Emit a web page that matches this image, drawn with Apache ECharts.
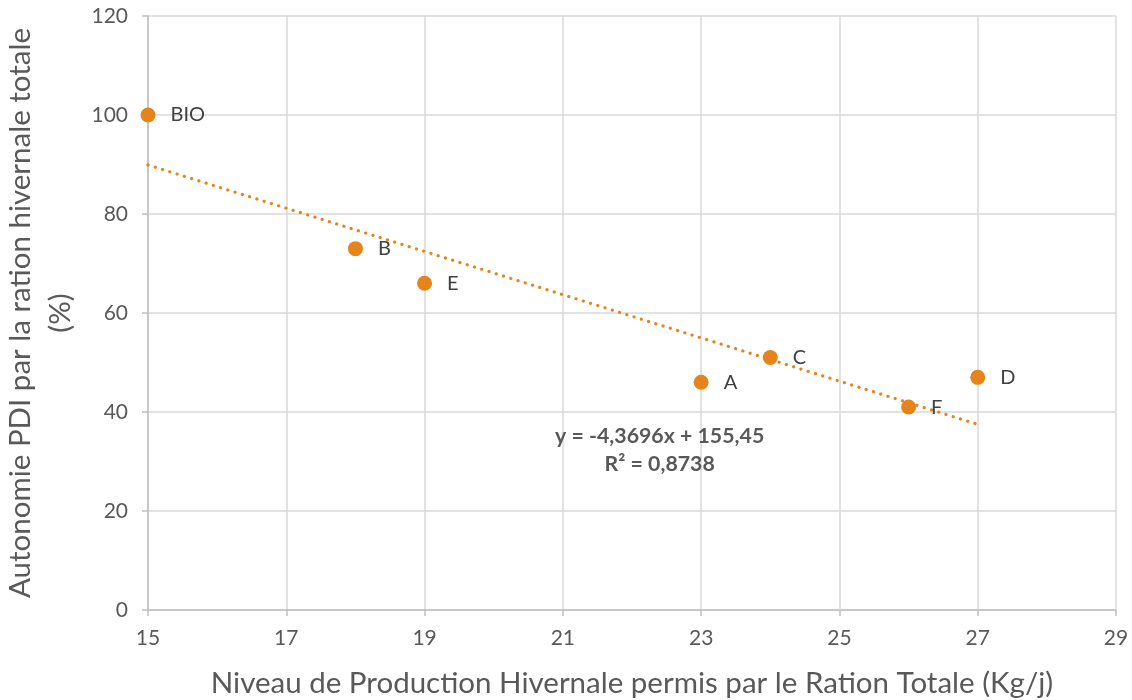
<!DOCTYPE html>
<html>
<head>
<meta charset="utf-8">
<script src="https://cdn.jsdelivr.net/npm/echarts@6/dist/echarts.min.js"></script>
<style>
  html, body { margin: 0; padding: 0; background: #fff; }
  #chart { width: 1132px; height: 700px; }
</style>
</head>
<body>
<div id="chart"></div>
<script>
// farms: name, production (kg/j), PDI autonomy (%)
const names = ["BIO", "B", "E", "A", "C", "F", "D"];
const production = [15, 18, 19, 23, 24, 26, 27];
const autonomy = [100, 73, 66, 46, 51, 41, 47];

// trendline ends
const trendX = [15, 27];
const trendY = [89.9, 37.5];
const trendText = "y = -4,3696x + 155,45\nR² = 0,8738";

const xTicks = { min: 15, max: 29, interval: 2 };
const yTicks = { min: 0, max: 120, interval: 20 };

const orange = "#E5841A";
const font = "Lato, 'Open Sans', sans-serif";

const chart = echarts.init(document.getElementById("chart"));

chart.setOption({
  animation: false,
  textStyle: { fontFamily: font },
  grid: { left: 148, right: 16, top: 16, bottom: 90, outerBoundsMode: "none", containLabel: false },
  xAxis: {
    type: "value",
    min: xTicks.min,
    max: xTicks.max,
    interval: xTicks.interval,
    name: "Niveau de Production Hivernale permis par le Ration Totale (Kg/j)",
    nameLocation: "middle",
    nameGap: 58,
    nameTextStyle: { fontSize: 29.5, color: "#595959", fontFamily: font },
    axisLine: { lineStyle: { color: "#bfbfbf", width: 1.5 } },
    axisTick: { show: true, length: 6, lineStyle: { color: "#bfbfbf", width: 1.5 } },
    axisLabel: { fontSize: 21, color: "#595959", margin: 18, fontFamily: font },
    splitLine: { lineStyle: { color: "#d9d9d9", width: 1.5 } }
  },
  yAxis: {
    type: "value",
    min: yTicks.min,
    max: yTicks.max,
    interval: yTicks.interval,
    name: "Autonomie PDI par la ration hivernale totale\n(%)",
    nameLocation: "middle",
    nameGap: 61,
    nameTextStyle: { fontSize: 29.5, color: "#595959", fontFamily: font, lineHeight: 40 },
    axisLine: { show: true, lineStyle: { color: "#bfbfbf", width: 1.5 } },
    axisTick: { show: true, length: 6, lineStyle: { color: "#bfbfbf", width: 1.5 } },
    axisLabel: { fontSize: 21, color: "#595959", margin: 20, fontFamily: font },
    splitLine: { lineStyle: { color: "#d9d9d9", width: 1.5 } }
  },
  series: [
    {
      name: "trend",
      type: "line",
      data: trendX.map((x, i) => [x, trendY[i]]),
      showSymbol: false,
      silent: true,
      z: 3,
      lineStyle: { color: orange, width: 3.2, type: [0.1, 7.5], cap: "round" },
      markPoint: {
        symbol: "circle",
        symbolSize: 0,
        data: [{ coord: [22.4, 32.3] }],
        label: {
          show: true,
          position: "inside",
          formatter: trendText,
          fontSize: 21.3,
          fontWeight: "bold",
          color: "#595959",
          lineHeight: 28,
          align: "center",
          fontFamily: font
        }
      }
    },
    {
      name: "farms",
      type: "scatter",
      data: production.map((x, i) => [x, autonomy[i], names[i]]),
      symbolSize: 15,
      z: 4,
      itemStyle: { color: orange, opacity: 1 },
      label: {
        show: true,
        position: "right",
        distance: 15,
        formatter: (p) => p.value[2],
        fontSize: 20,
        color: "#404040",
        fontFamily: font
      }
    }
  ]
});
</script>
</body>
</html>
